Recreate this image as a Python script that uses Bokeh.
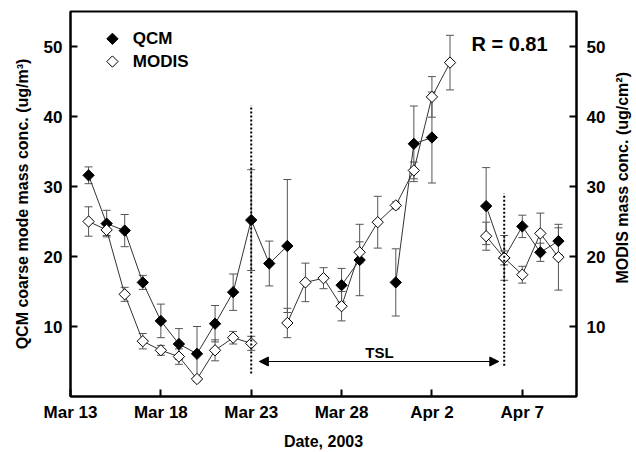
import numpy as np
import pandas as pd
from bokeh.plotting import figure
from bokeh.layouts import row
from bokeh.models import (ColumnDataSource, Whisker, TeeHead, LinearAxis, FixedTicker,
                          Label, Arrow, NormalHead, Range1d)
from bokeh.core.properties import value
from bokeh.embed import file_html
from bokeh.resources import INLINE

nan = float("nan")

# ---------------- data ----------------
origin_date = "2003-03-13"
dates = ["2003-03-14", "2003-03-15", "2003-03-16", "2003-03-17", "2003-03-18",
         "2003-03-19", "2003-03-20", "2003-03-21", "2003-03-22", "2003-03-23",
         "2003-03-24", "2003-03-25", "2003-03-26", "2003-03-27", "2003-03-28",
         "2003-03-29", "2003-03-30", "2003-03-31", "2003-04-01", "2003-04-02",
         "2003-04-03", "2003-04-04", "2003-04-05", "2003-04-06", "2003-04-07",
         "2003-04-08", "2003-04-09"]
qcm = [31.6, 24.7, 23.7, 16.3, 10.8, 7.5, 6.1, 10.4, 14.9, 25.2,
       19.0, 21.5, nan, nan, 15.9, 19.5, nan, 16.3, 36.1, 37.0,
       nan, nan, 27.2, 19.8, 24.3, 20.6, 22.2]
qcm_err = [1.2, 1.9, 2.3, 1.0, 2.4, 2.2, 3.9, 2.6, 2.6, 7.2,
           3.2, 9.5, nan, nan, 2.4, 5.1, nan, 4.8, 5.4, 6.5,
           nan, nan, 5.5, 3.2, 1.6, 1.3, 1.9]
modis = [25.0, 23.8, 14.6, 7.9, 6.6, 5.7, 2.5, 6.6, 8.4, 7.6,
         nan, 10.5, 16.3, 16.9, 12.9, 20.6, 24.9, 27.3, 32.3, 42.8,
         47.7, nan, 22.9, 19.8, 17.4, 23.3, 19.9]
modis_err = [2.1, 0.8, 1.0, 1.1, 0.7, 1.1, 0.3, 1.5, 0.9, 1.0,
             nan, 2.1, 2.75, 1.5, 2.1, 1.5, 3.7, 0.5, 1.2, 2.9,
             3.9, nan, 2.0, 1.0, 1.2, 2.9, 4.7]

series_names = ["QCM", "MODIS"]
tick_dates = ["2003-03-13", "2003-03-18", "2003-03-23", "2003-03-28", "2003-04-02", "2003-04-07"]
tick_labels = ["Mar 13", "Mar 18", "Mar 23", "Mar 28", "Apr 2", "Apr 7"]
y_ticks = [10, 20, 30, 40, 50]

tsl_start = "2003-03-23"
tsl_end = "2003-04-06"
r_text = "R = 0.81"
right_title = "MODIS mass conc. (ug/cm²)"

# ---------------- helpers ----------------
t0 = pd.Timestamp(origin_date)
def day(d):
    return float((pd.Timestamp(d) - t0).days)

x = np.array([day(d) for d in dates])
qcm_a, qcm_e = np.array(qcm), np.array(qcm_err)
mod_a, mod_e = np.array(modis), np.array(modis_err)

FONT = "Liberation Sans"
DARK = "#333333"
ERR = "#555555"
MSIZE = 8

p = figure(width=610, height=452, output_backend="svg", toolbar_location=None,
           x_range=Range1d(0, 28), y_range=Range1d(0, 55),
           min_border_left=70, min_border_right=34, min_border_top=11, min_border_bottom=56)
p.background_fill_color = "white"
p.border_fill_color = "white"
p.outline_line_color = "black"
p.outline_line_width = 2
p.xgrid.visible = False
p.ygrid.visible = False

def style_axis(ax):
    ax.axis_line_width = 2
    ax.axis_line_color = "black"
    ax.major_tick_in = 7
    ax.major_tick_out = 0
    ax.major_tick_line_width = 2
    ax.minor_tick_line_color = None
    ax.major_label_text_font = FONT
    ax.major_label_text_font_style = "bold"
    ax.major_label_text_font_size = "17px"
    ax.major_label_text_color = "black"
    ax.axis_label_text_font = FONT
    ax.axis_label_text_font_style = "bold"
    ax.axis_label_text_font_size = "16px"
    ax.axis_label_text_color = "black"

xa = p.xaxis[0]
style_axis(xa)
xa.ticker = FixedTicker(ticks=[day(d) for d in tick_dates])
xa.major_label_overrides = {day(d): lab for d, lab in zip(tick_dates, tick_labels)}
xa.axis_label = "Date, 2003"
xa.major_label_standoff = 6
xa.axis_label_standoff = 8

ya = p.yaxis[0]
style_axis(ya)
ya.ticker = FixedTicker(ticks=y_ticks)
ya.axis_label = "QCM coarse mode mass conc. (ug/m³)"
ya.major_label_standoff = 8
ya.axis_label_standoff = 10

ra = LinearAxis()
style_axis(ra)
ra.ticker = FixedTicker(ticks=y_ticks)
ra.major_label_standoff = 10
p.add_layout(ra, "right")

# connecting lines (NaN breaks the line)
p.line(x, qcm_a, line_color=DARK, line_width=1)
p.line(x, mod_a, line_color=DARK, line_width=1)

def add_err(vals, errs):
    m = ~np.isnan(vals)
    src = ColumnDataSource(dict(base=x[m], upper=(vals + errs)[m], lower=(vals - errs)[m]))
    w = Whisker(source=src, base="base", upper="upper", lower="lower", dimension="height",
                line_color=ERR, line_width=1,
                upper_head=TeeHead(size=8, line_color=ERR, line_width=1),
                lower_head=TeeHead(size=8, line_color=ERR, line_width=1))
    p.add_layout(w)

add_err(qcm_a, qcm_e)
add_err(mod_a, mod_e)

mq = ~np.isnan(qcm_a)
mm = ~np.isnan(mod_a)
p.scatter(x[mq], qcm_a[mq], marker="square", angle=np.pi / 4, size=MSIZE,
          fill_color="black", line_color="black", line_width=1)
p.scatter(x[mm], mod_a[mm], marker="square", angle=np.pi / 4, size=MSIZE,
          fill_color="white", line_color="black", line_width=1)

# legend (drawn by hand so the diamonds keep their rotation)
leg_x, leg_y = [2.32, 2.32], [51.1, 47.85]
p.scatter(leg_x, leg_y, marker="square", angle=np.pi / 4, size=MSIZE,
          fill_color=["black", "white"], line_color="black", line_width=1)
for yy, name in zip(leg_y, series_names):
    p.add_layout(Label(x=3.45, y=yy, text=name, text_align="left", text_baseline="middle",
                       text_font=FONT, text_font_style="bold", text_font_size="17px",
                       text_color="black"))

# TSL annotation
xs, xe = day(tsl_start), day(tsl_end)
p.segment(x0=[xs, xe], y0=[3.3, 4.4], x1=[xs, xe], y1=[41.6, 29.0],
          line_color="black", line_width=2, line_dash="2 2")
p.add_layout(Arrow(x_start=xs + 0.45, y_start=5.0, x_end=xe - 0.3, y_end=5.0,
                   line_color="black", line_width=1,
                   start=NormalHead(size=9, fill_color="black", line_color="black"),
                   end=NormalHead(size=9, fill_color="black", line_color="black")))
p.add_layout(Label(x=(xs + xe) / 2 + 0.1, y=6.3, text="TSL", text_align="center",
                   text_baseline="middle", text_font=FONT, text_font_style="bold",
                   text_font_size="15px", text_color="black"))

p.add_layout(Label(x=26.4, y=50.3, text=r_text, text_align="right", text_baseline="middle",
                   text_font=FONT, text_font_style="bold", text_font_size="20px",
                   text_color="black"))

# narrow strip on the right carrying the right-hand axis title (reads bottom-to-top)
p2 = figure(width=26, height=452, output_backend="svg", toolbar_location=None,
            x_range=Range1d(0, 1), y_range=Range1d(0, 1),
            x_axis_location=None, y_axis_location=None,
            min_border=0, min_border_left=0, min_border_right=0,
            min_border_top=0, min_border_bottom=0)
p2.outline_line_color = None
p2.xgrid.visible = False
p2.ygrid.visible = False
p2.background_fill_color = "white"
p2.border_fill_color = "white"
p2.text(x=[0.46], y=[0.568], text=[right_title], angle=np.pi / 2,
        text_align="center", text_baseline="middle", text_font=value(FONT),
        text_font_style="bold", text_font_size="16px", text_color="black")

layout = row(p, p2, spacing=0)
open("out.html", "w").write(file_html(layout, INLINE))
